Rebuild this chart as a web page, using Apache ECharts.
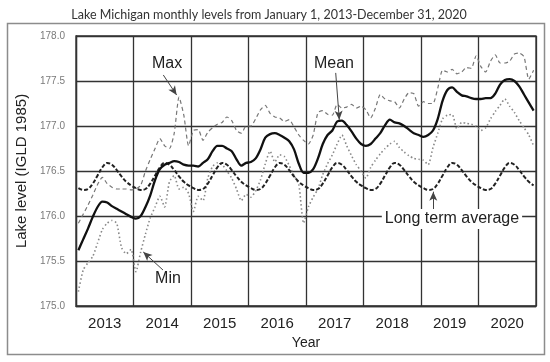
<!DOCTYPE html>
<html>
<head>
<meta charset="utf-8">
<script src="https://cdn.jsdelivr.net/npm/echarts@6/dist/echarts.min.js"></script>
<style>html,body{margin:0;padding:0;background:#fff;}#c{width:550px;height:362px;}</style>
</head>
<body>
<div id="c"></div>
<script>
var years = ['2013','2014','2015','2016','2017','2018','2019','2020'];
var yTicks = [175.0, 175.5, 176.0, 176.5, 177.0, 177.5, 178.0];

var meanLevel = [
 175.62,175.74,175.86,175.99,176.10,176.16,176.15,176.11,176.08,176.05,176.02,175.99,
 175.97,176.00,176.10,176.23,176.40,176.52,176.57,176.59,176.61,176.60,176.57,176.56,
 176.56,176.55,176.59,176.63,176.72,176.78,176.78,176.75,176.72,176.63,176.56,176.59,
 176.60,176.64,176.74,176.87,176.91,176.92,176.90,176.87,176.83,176.74,176.58,176.48,
 176.48,176.52,176.64,176.80,176.90,176.95,177.05,177.06,177.01,176.94,176.86,176.80,
 176.78,176.80,176.86,176.92,177.01,177.07,177.04,177.03,177.00,176.96,176.92,176.90,
 176.88,176.90,176.95,177.08,177.28,177.40,177.43,177.38,177.34,177.33,177.31,177.30,
 177.30,177.31,177.31,177.36,177.46,177.51,177.52,177.50,177.44,177.35,177.26,177.17
];
var maxLevel = [
 175.92,176.02,176.12,176.23,176.35,176.43,176.36,176.32,176.30,176.30,176.30,176.29,
 176.30,176.34,176.50,176.63,176.75,176.86,176.78,176.75,176.92,177.32,177.12,176.78,
 176.95,176.96,176.84,176.93,176.98,177.02,177.04,177.10,177.06,176.95,176.92,177.00,
 177.00,177.08,177.18,177.23,177.14,177.10,177.09,177.05,177.07,176.99,176.90,176.84,
 176.80,176.90,177.15,177.17,177.13,177.12,177.24,177.20,177.21,177.24,177.20,177.22,
 177.18,177.09,177.20,177.35,177.30,177.28,177.27,177.20,177.30,177.37,177.36,177.22,
 177.27,177.25,177.25,177.42,177.62,177.60,177.63,177.58,177.60,177.65,177.64,177.78,
 177.66,177.60,177.72,177.79,177.70,177.70,177.72,177.80,177.81,177.77,177.52,177.62
];
var minLevel = [
 175.16,175.40,175.48,175.55,175.70,175.85,175.92,175.95,175.92,175.65,175.58,175.63,
 175.38,175.60,175.80,175.98,176.10,176.22,176.10,176.38,176.45,176.30,176.32,176.25,
 176.05,176.22,176.17,176.42,176.55,176.59,176.57,176.50,176.42,176.30,176.17,176.24,
 176.21,176.28,176.40,176.58,176.72,176.60,176.68,176.66,176.56,176.45,176.35,175.92,
 176.10,176.21,176.30,176.46,176.58,176.68,176.80,176.90,176.78,176.67,176.57,176.50,
 176.42,176.54,176.62,176.69,176.75,176.80,176.83,176.76,176.71,176.67,176.64,176.63,
 176.62,176.57,176.76,176.92,177.08,177.12,177.13,176.97,177.04,177.03,177.02,177.00,
 176.95,176.98,177.08,177.16,177.23,177.30,177.22,177.15,177.06,176.98,176.90,176.78
];
var longTermAvg = [
 176.31,176.29,176.30,176.36,176.45,176.54,176.59,176.57,176.51,176.44,176.38,176.34,
 176.31,176.29,176.30,176.36,176.45,176.54,176.59,176.57,176.51,176.44,176.38,176.34,
 176.31,176.29,176.30,176.36,176.45,176.54,176.59,176.57,176.51,176.44,176.38,176.34,
 176.31,176.29,176.30,176.36,176.45,176.54,176.59,176.57,176.51,176.44,176.38,176.34,
 176.31,176.29,176.30,176.36,176.45,176.54,176.59,176.57,176.51,176.44,176.38,176.34,
 176.31,176.29,176.30,176.36,176.45,176.54,176.59,176.57,176.51,176.44,176.38,176.34,
 176.31,176.29,176.30,176.36,176.45,176.54,176.59,176.57,176.51,176.44,176.38,176.34,
 176.31,176.29,176.30,176.36,176.45,176.54,176.59,176.57,176.51,176.44,176.38,176.34
];

function toPts(arr){ return arr.map(function(v,i){ return [i+0.5, v]; }); }

var annFont = 'Liberation Sans, Arial, sans-serif';
var chart = echarts.init(document.getElementById('c'), null, {renderer:'canvas'});
chart.setOption({
  animation: false,
  backgroundColor: '#fff',
  title: {
    text: 'Lake Michigan monthly levels from January 1, 2013-December 31, 2020',
    left: 264, top: 3, textAlign: 'center',
    textStyle: {fontFamily: 'Lato, sans-serif', fontSize: 12.5, fontWeight: 'normal', color: '#333'}
  },
  graphic: [{
    type: 'rect', silent: true, z: -1,
    shape: {x: 7.5, y: 23.5, width: 537, height: 331},
    style: {fill: 'none', stroke: '#8c8c8c', lineWidth: 1.5}
  }],
  grid: {left: 76, right: 14, top: 36, bottom: 56, show: true, borderColor: '#333', borderWidth: 1.3, backgroundColor: 'transparent'},
  xAxis: [{
    type: 'category', data: years, boundaryGap: true, position: 'bottom',
    axisLine: {show: true, lineStyle: {color: '#333', width: 1.3}},
    axisTick: {show: false},
    axisLabel: {fontFamily: annFont, fontSize: 15, color: '#222', margin: 10},
    splitLine: {show: true, lineStyle: {color: '#333', width: 1.3}},
    name: 'Year', nameLocation: 'middle', nameGap: 29,
    nameTextStyle: {fontFamily: annFont, fontSize: 14, color: '#222'}
  }, {
    type: 'value', min: 0, max: 96, show: false
  }],
  yAxis: {
    type: 'value', min: yTicks[0], max: yTicks[yTicks.length-1], interval: 0.5,
    axisLine: {show: true, lineStyle: {color: '#333', width: 1.3}},
    axisTick: {show: false},
    axisLabel: {fontFamily: annFont, fontSize: 10, color: '#7a7a7a', margin: 11, formatter: function(v){ return v.toFixed(1); }},
    splitLine: {show: true, lineStyle: {color: '#333', width: 1.3}},
    name: 'Lake level (IGLD 1985)', nameLocation: 'middle', nameGap: 46,
    nameTextStyle: {fontFamily: annFont, fontSize: 15, color: '#222'}
  },
  series: [{
    name: 'Long term average', type: 'line', xAxisIndex: 1, data: toPts(longTermAvg),
    showSymbol: false, smooth: 0.4, z: 3,
    lineStyle: {color: '#222', width: 2, type: [4, 2]}
  }, {
    name: 'Min', type: 'line', xAxisIndex: 1, data: toPts(minLevel),
    showSymbol: false, smooth: 0.2, z: 2,
    lineStyle: {color: '#888', width: 1.6, type: [1.5, 2.5]}
  }, {
    name: 'Max', type: 'line', xAxisIndex: 1, data: toPts(maxLevel),
    showSymbol: false, smooth: 0.2, z: 2,
    lineStyle: {color: '#777', width: 1.2, type: [4, 3]}
  }, {
    name: 'Mean', type: 'line', xAxisIndex: 1, data: toPts(meanLevel),
    showSymbol: false, smooth: 0.3, z: 4,
    lineStyle: {color: '#111', width: 2.3},
    markLine: {
      silent: true, symbol: ['none', 'arrow'], symbolSize: [6, 9],
      label: {show: false},
      lineStyle: {color: '#444', width: 1, type: 'solid'},
      data: [
        [{coord: [18.22, 177.567]}, {coord: [21.0, 177.344]}],
        [{coord: [18.15, 175.40]}, {coord: [14.04, 175.60]}],
        [{coord: [54.2, 177.59]}, {coord: [54.95, 177.07]}],
        [{coord: [74.56, 176.05]}, {coord: [74.56, 176.27]}]
      ]
    },
    markPoint: {
      silent: true, symbol: 'circle', symbolSize: 0,
      label: {show: true, position: 'inside', fontFamily: annFont, fontSize: 16, color: '#222',
        formatter: function(p){ return p.name; }},
      data: [
        {name: 'Max', coord: [19.0, 177.69]},
        {name: 'Min', coord: [19.2, 175.30]},
        {name: 'Mean', coord: [53.84, 177.69]},
        {name: 'Long term average', coord: [78.46, 175.967],
         label: {backgroundColor: '#fff', padding: [2, 3]}}
      ]
    }
  }]
});
</script>
</body>
</html>
